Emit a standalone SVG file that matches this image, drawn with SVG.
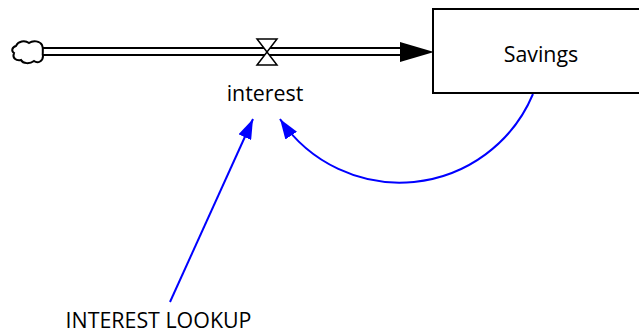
<svg xmlns="http://www.w3.org/2000/svg" width="639" height="332" viewBox="0 0 639 332">
<style>
.lbl{font-family:"Open Sans","Noto Sans",sans-serif;font-size:21.4px;fill:#000;}
.link{fill:none;stroke:#0000ff;stroke-width:2;}
</style>
<defs>
<marker id="blueArrow" viewBox="0 0 20 14" refX="20" refY="7" markerWidth="20" markerHeight="14" markerUnits="userSpaceOnUse" orient="auto">
<path d="M0,0 L20,7 L0,14 Z" fill="#0000ff"/>
</marker>
</defs>
<rect width="639" height="332" fill="#fff"/>
<g id="connectors">
<g id="flow-pipe">
<line x1="42" y1="51.5" x2="402" y2="51.5" stroke="#000" stroke-width="9"/>
<line x1="43" y1="51.5" x2="404" y2="51.5" stroke="#fff" stroke-width="5"/>
<path d="M400,42 L434,52 L400,62 Z" fill="#000"/>
</g>
<line class="link" x1="170" y1="302" x2="253" y2="119" marker-end="url(#blueArrow)"/>
<path class="link" d="M533,94 A144.5,144.5 0 0 1 280,119" marker-end="url(#blueArrow)"/>
</g>
<g id="cloud">
<path d="M16,46 C18,41 25,40 29,43 C33,40 40,41 42,45 C44,49 42,53 43,56 C43,61 38,64 34,61 C30,64 23,64 21,60 C16,61 12,58 14,53 C11,51 12,47 16,46 Z" fill="#fff" stroke="#000" stroke-width="2"/>
</g>
<g id="interest">
<path d="M257,39 L277,39 L267,52 Z M267,52 L257,65 L277,65 Z" fill="#fff" stroke="#000" stroke-width="1.5" stroke-linejoin="miter"/>
<text class="lbl" x="265" y="101" text-anchor="middle">interest</text>
</g>
<g id="savings">
<rect x="433" y="9" width="220" height="84" fill="#fff" stroke="#000" stroke-width="2"/>
<text class="lbl" x="541" y="61.5" text-anchor="middle">Savings</text>
</g>
<g id="interest-lookup">
<text class="lbl" x="158.5" y="327.5" text-anchor="middle">INTEREST LOOKUP</text>
</g>
</svg>
